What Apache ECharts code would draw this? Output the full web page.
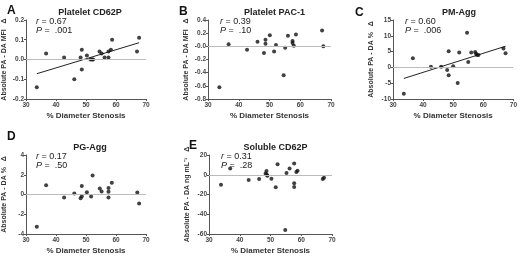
<!DOCTYPE html>
<html><head><meta charset="utf-8">
<script src="https://cdn.jsdelivr.net/npm/echarts@6/dist/echarts.min.js"></script>
<style>html,body{margin:0;padding:0;background:#fff}#c{width:520px;height:256px}</style>
</head><body><div id="c"></div>
<script>
// ---- data ----
const xA = [33.6,36.7,42.7,46.1,48.2,48.6,48.6,50.3,51.5,52.0,52.4,54.5,55.2,56.2,57.5,57.5,58.3,58.7,67.0,67.7];
const yA = [-0.14,0.03,0.01,-0.10,0.01,0.05,-0.05,0.02,0.0,0.0,0.0,0.04,0.03,0.01,0.01,0.04,0.05,0.10,0.04,0.11];
const trendA = [[33.6,-0.072],[67.7,0.085]];

const xB = [33.7,36.7,42.7,46.1,48.2,48.7,48.7,50.1,51.5,52.1,54.6,55.1,56.0,57.5,57.5,57.9,58.6,67.1,67.5];
const yB = [-0.62,0.03,-0.05,0.07,-0.10,0.10,0.04,0.17,-0.08,0.02,-0.44,-0.02,0.16,0.08,0.05,0.01,0.18,0.24,0.0];

const xC = [33.6,36.6,42.6,46.0,48.0,48.5,48.5,50.0,51.5,52.0,54.6,55.0,56.0,57.3,57.6,57.9,58.4,66.7,67.4];
const yC = [-8.3,2.9,0.2,0.2,-0.8,5.1,-2.5,0.4,-4.9,4.7,11.0,1.7,4.7,4.9,4.3,3.9,3.9,6.0,4.5];
const trendC = [[33.6,-3.5],[67.4,6.7]];

const xD = [33.6,36.7,42.7,46.1,48.2,48.6,48.6,50.3,51.7,52.2,54.6,55.2,57.5,57.5,57.5,58.6,67.1,67.7];
const yD = [-3.27,0.93,-0.3,0.1,-0.37,0.87,-0.17,0.23,-0.2,1.93,0.6,0.3,0.67,0.27,-0.3,1.2,0.2,-0.9];

const xE = [33.9,36.9,42.9,46.3,48.4,48.7,48.8,49.0,50.3,51.7,52.3,54.8,55.2,56.2,57.7,57.7,57.7,58.4,58.8,67.0,67.4];
const yE = [-10,6.3,-5.3,-4.3,1.3,3.7,0,-1,-4,-12.7,10.7,-56,1.7,6.3,11.3,-8.7,-12.3,2.7,4,-4.3,-3];

const panels = [
  {letter:'A', title:'Platelet CD62P', yName:'Absolute PA - DA MFI   \u0394', r:'0.67', p:'.001', x:xA, y:yA, trend:trendA, min:-0.2, max:0.2, interval:0.1, fmt:v=>v.toFixed(1)},
  {letter:'B', title:'Platelet PAC-1', yName:'Absolute PA - DA MFI   \u0394', r:'0.39', p:'.10', x:xB, y:yB, trend:null, min:-0.8, max:0.4, interval:0.2, fmt:v=>Math.abs(v)<1e-9?'-0.0':v.toFixed(1)},
  {letter:'C', title:'PM-Agg', yName:'Absolute PA - DA %   \u0394', r:'0.60', p:'.006', x:xC, y:yC, trend:trendC, min:-10, max:15, interval:5, fmt:v=>String(v)},
  {letter:'D', title:'PG-Agg', yName:'Absolute PA - DA %   \u0394', r:'0.17', p:'.50', x:xD, y:yD, trend:null, min:-4, max:4, interval:2, fmt:v=>String(v)},
  {letter:'E', title:'Soluble CD62P', yName:'Absolute PA - DA ng mL\u207B\u00B9   \u0394', r:'0.31', p:'.28', x:xE, y:yE, trend:null, min:-60, max:20, interval:20, fmt:v=>String(v)}
];

// ---- layout ----
const grids = [
  {left:24, top:20, width:122, height:79},
  {left:208, top:20, width:123, height:79},
  {left:393, top:20, width:122, height:79},
  {left:24, top:155, width:122, height:80},
  {left:209, top:155, width:123, height:80}
];
const letterPos = [[2,0],[174,1],[350,2],[2,126],[184,135]];
const nameGaps = [18, 18, 18, 18, 18];

const font = 'Liberation Sans, Arial, sans-serif';
const axisCol = '#555';
const options = {animation:false, backgroundColor:'#fff', grid:[], xAxis:[], yAxis:[], series:[], title:[]};

panels.forEach((p,i)=>{
  const g = grids[i];
  options.grid.push(g);
  options.xAxis.push({
    gridIndex:i, type:'value', min:30, max:70, interval:10,
    name:'% Diameter Stenosis', nameLocation:'middle', nameGap:13,
    nameTextStyle:{fontFamily:font, fontSize:8, fontWeight:'bold', color:'#333'},
    axisLine:{onZero:false, lineStyle:{color:axisCol, width:1}},
    axisTick:{length:2, lineStyle:{color:axisCol}},
    axisLabel:{fontFamily:font, fontSize:6.5, fontWeight:'bold', color:'#444', margin:3},
    splitLine:{show:false}
  });
  options.yAxis.push({
    gridIndex:i, type:'value', min:p.min, max:p.max, interval:p.interval,
    name:p.yName, nameLocation:'middle', nameRotate:90, nameGap:nameGaps[i],
    nameTextStyle:{fontFamily:font, fontSize:7, fontWeight:'bold', color:'#333'},
    axisLine:{show:true, onZero:false, lineStyle:{color:axisCol, width:1}},
    axisTick:{show:true, length:2, lineStyle:{color:axisCol}},
    axisLabel:{fontFamily:font, fontSize:6.5, fontWeight:'bold', color:'#444', margin:2, formatter:p.fmt},
    splitLine:{show:false}
  });
  options.series.push({
    type:'scatter', xAxisIndex:i, yAxisIndex:i, symbolSize:4,
    itemStyle:{color:'#111'},
    data:p.x.map((v,k)=>[v,p.y[k]]),
    markLine:{silent:true, symbol:'none', label:{show:false},
      lineStyle:{color:'#bbb', type:'solid', width:1}, data:[{yAxis:0}]},
    z:3
  });
  if (p.trend) {
    options.series.push({
      type:'line', xAxisIndex:i, yAxisIndex:i, data:p.trend, symbol:'none',
      lineStyle:{color:'#222', width:1}, z:2
    });
  }
  options.title.push({
    text:p.title, left:g.left + g.width/2, top:g.top-17, textAlign:'center',
    textStyle:{fontFamily:font, fontSize:9, fontWeight:'bold', color:'#222'}
  });
  options.title.push({
    text:p.letter, left:letterPos[i][0], top:letterPos[i][1],
    textStyle:{fontFamily:font, fontSize:12, fontWeight:'bold', color:'#111'}
  });
  options.title.push({
    text:'{i|r} = ' + p.r + '\n{i|P} =  ' + p.p,
    left:g.left + 7, top:g.top - 8,
    textStyle:{fontFamily:font, fontSize:9, fontWeight:'normal', color:'#222', lineHeight:9,
      rich:{i:{fontStyle:'italic', fontWeight:'normal', fontFamily:font, fontSize:9, color:'#222'}}}
  });
});

const chart = echarts.init(document.getElementById('c'), null, {renderer:'canvas'});
chart.setOption(options);
</script>
</body></html>
